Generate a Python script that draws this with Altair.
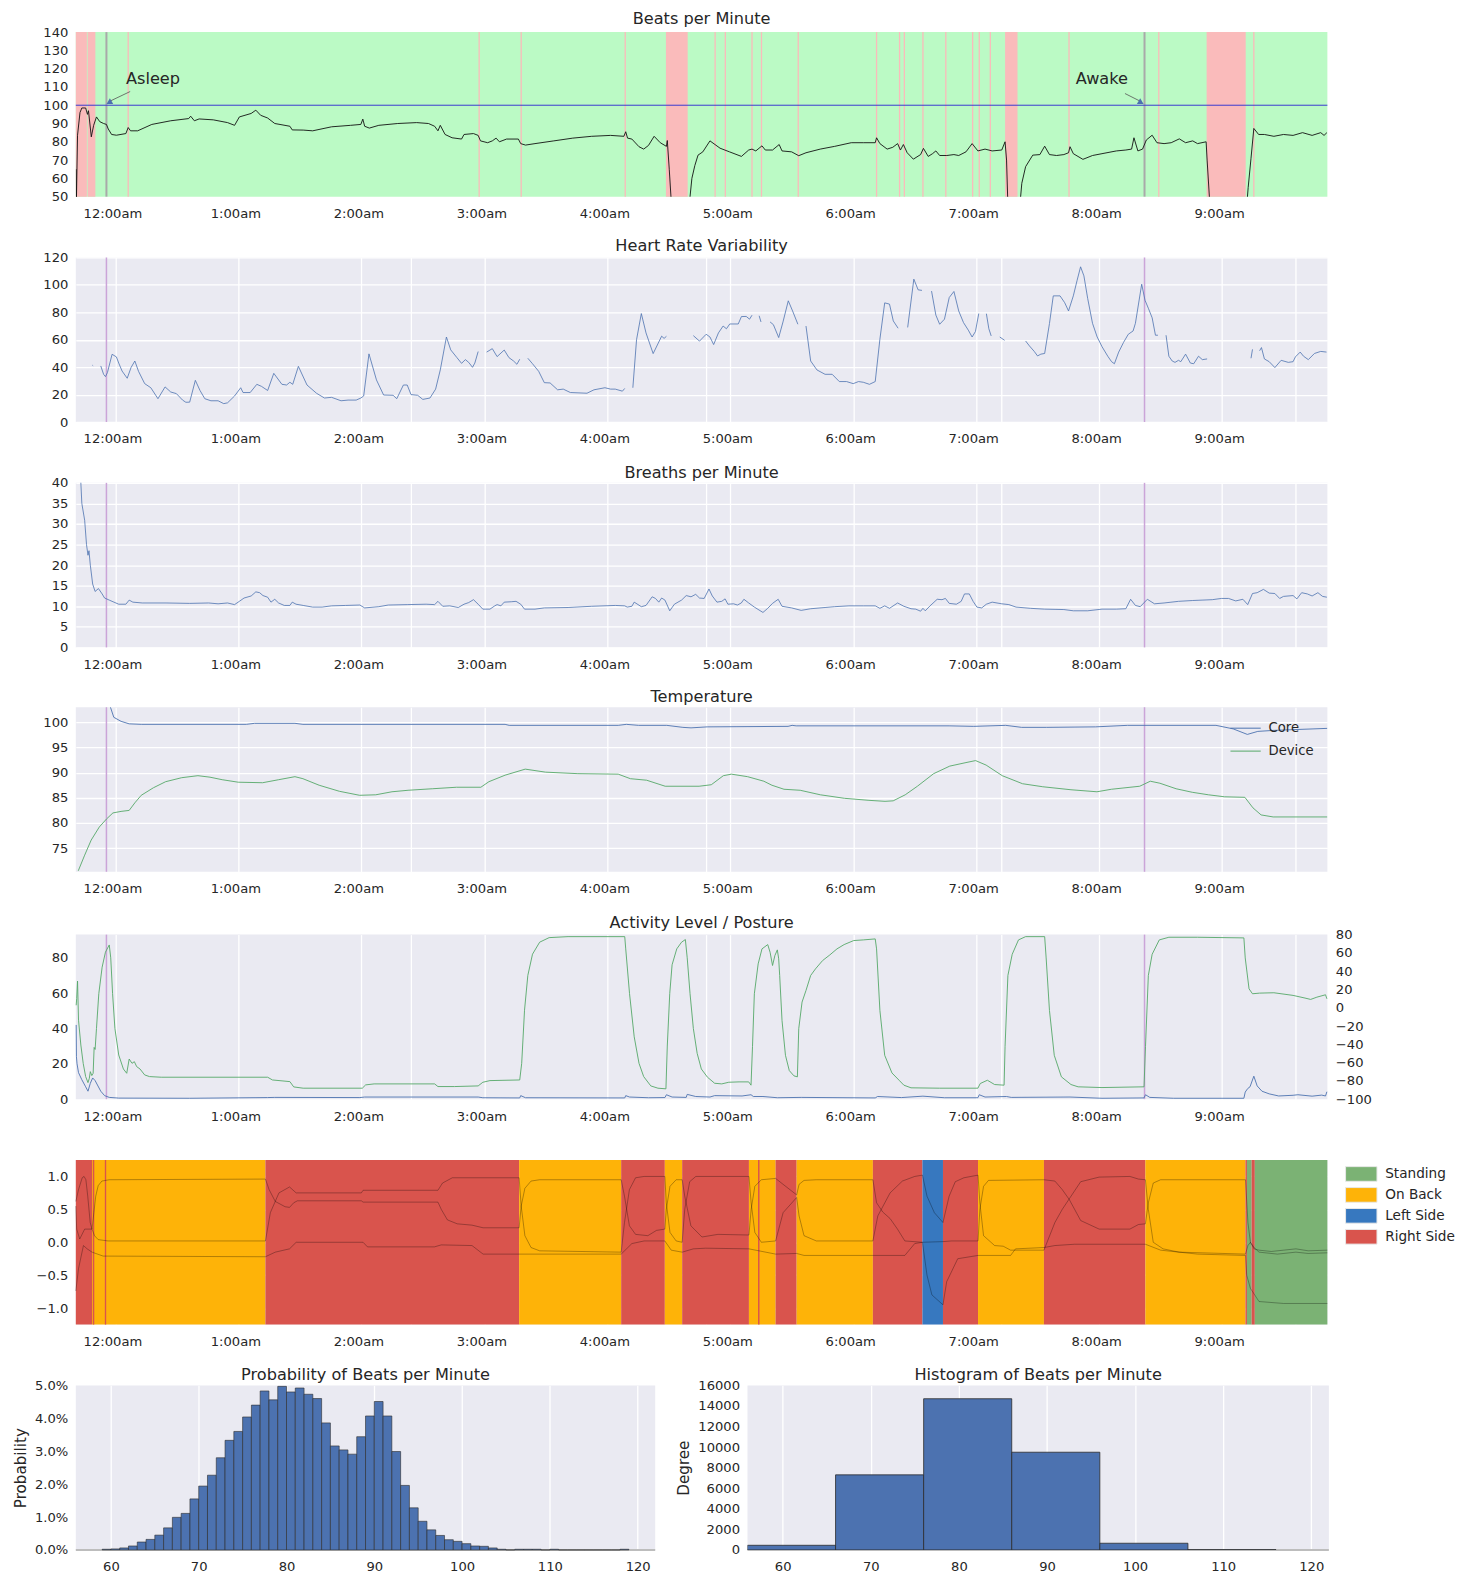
import altair as alt
import pandas as pd

# ---------------- time axis (hours after midnight) ----------------
X_DOMAIN = [-0.322, 9.856]
X_TICKS = [0, 1, 2, 3, 4, 5, 6, 7, 8, 9, 2.4, 4.8, 7.2, 9.6]
X_LABEL_EXPR = ("datum.value == 0 ? '12:00am' : "
                "(abs(datum.value - round(datum.value)) < 0.001 ? datum.value + ':00am' : '')")

sleep_markers = [-0.073, 8.369]

# ---------------- panel 1: beats per minute ----------------
pink_bands = [(-0.322, -0.232), (-0.226, -0.163), (4.477, 4.654), (7.235, 7.336), (8.874, 9.192)]
pink_lines = [0.104, 2.958, 3.300, 4.146, 4.877, 4.960, 5.177, 5.254, 5.553, 6.190, 6.377,
              6.416, 6.567, 6.753, 6.971, 7.025, 7.115, 7.755, 8.485, 9.258]
bpm_threshold = [100]
bpm_trace = [
    (-0.319, 65), (-0.317, 48), (-0.308, 83.6), (-0.288, 96), (-0.273, 98.5), (-0.242, 98.5),
    (-0.227, 95), (-0.219, 97), (-0.196, 82.7), (-0.177, 89), (-0.154, 93.6), (-0.127, 91),
    (-0.096, 90), (-0.073, 89.5), (-0.058, 87), (-0.031, 84), (0.008, 83.6), (0.085, 84.5),
    (0.104, 87.8), (0.123, 86), (0.181, 86), (0.296, 89.5), (0.450, 91.5), (0.596, 92.7),
    (0.612, 94), (0.642, 91.5), (0.681, 92.5), (0.796, 92), (0.912, 90.5), (0.969, 89),
    (1.008, 93.6), (1.104, 95.5), (1.142, 97.3), (1.181, 94.5), (1.238, 93), (1.296, 90),
    (1.419, 88.5), (1.438, 86.5), (1.527, 86.4), (1.604, 86), (1.758, 88.2), (1.912, 89),
    (1.996, 89.5), (2.012, 92.4), (2.027, 88.5), (2.065, 87.5), (2.142, 89), (2.296, 90),
    (2.450, 90.5), (2.546, 90), (2.596, 88.5), (2.623, 86), (2.642, 89), (2.681, 84),
    (2.738, 82.2), (2.815, 81.5), (2.835, 84), (2.912, 84.5), (2.950, 83.5), (2.969, 80.5),
    (3.027, 79.5), (3.065, 80.5), (3.096, 82), (3.123, 80), (3.181, 81.5), (3.277, 81.5),
    (3.296, 79), (3.335, 78.2), (3.412, 79), (3.565, 80.5), (3.719, 82), (3.873, 83),
    (4.027, 83.5), (4.135, 83), (4.150, 85.5), (4.165, 82), (4.200, 81.5), (4.258, 77.3),
    (4.296, 76), (4.335, 78), (4.381, 83), (4.431, 79.5), (4.481, 77.5), (4.488, 80.7),
    (4.504, 65), (4.527, 40), (4.560, 20), (4.650, 40), (4.673, 50), (4.688, 60),
    (4.712, 67), (4.738, 72.7), (4.777, 74.5), (4.835, 80.5), (4.917, 76.5), (4.994, 74.5),
    (5.091, 72), (5.150, 75.5), (5.177, 76), (5.208, 75), (5.258, 77.8), (5.285, 75.5),
    (5.344, 75.5), (5.398, 78.5), (5.421, 75), (5.499, 74.5), (5.557, 72.4), (5.616, 74),
    (5.732, 76), (5.849, 77.5), (5.984, 79.5), (6.082, 79.5), (6.179, 79.5), (6.190, 82.2),
    (6.217, 79), (6.276, 76), (6.322, 77), (6.361, 79), (6.384, 75.5), (6.408, 78.5),
    (6.439, 74), (6.489, 70.5), (6.548, 73), (6.571, 76.4), (6.610, 72), (6.645, 73.5),
    (6.672, 75), (6.703, 72.5), (6.761, 72.5), (6.819, 73), (6.858, 72.5), (6.917, 74.5),
    (6.967, 79), (7.014, 75), (7.072, 76), (7.130, 75), (7.208, 75.5), (7.235, 80),
    (7.247, 70), (7.258, 45), (7.290, 20), (7.355, 45), (7.371, 57.3), (7.402, 66.4),
    (7.460, 72.7), (7.518, 73), (7.557, 77.6), (7.596, 73), (7.654, 72.5), (7.713, 73),
    (7.751, 74), (7.763, 77.3), (7.790, 73.5), (7.868, 70.4), (7.946, 72.5), (8.023, 73.5),
    (8.140, 75), (8.217, 75.5), (8.264, 76), (8.283, 82.2), (8.315, 75), (8.353, 76),
    (8.384, 81), (8.431, 83.6), (8.470, 79.5), (8.528, 79), (8.586, 79.5), (8.652, 81.6),
    (8.703, 79.5), (8.761, 80.5), (8.800, 79), (8.870, 80), (8.878, 70), (8.901, 45),
    (9.030, 20), (9.200, 45), (9.212, 55), (9.235, 71), (9.258, 87.3), (9.297, 84),
    (9.344, 84), (9.421, 83), (9.499, 84), (9.577, 83.5), (9.654, 85), (9.732, 83.5),
    (9.802, 85), (9.829, 83.5), (9.852, 85),
]
annot_labels = ["Asleep", "Awake"]
annot_text_pos = [(0.086, 114.6), (7.81, 114.6)]
annot_arrow_from = [(0.120, 107.5), (8.21, 106.4)]
annot_arrow_to = [(-0.045, 102.2), (8.334, 102.2)]

# ---------------- panel 2: heart rate variability (segments) ----------------
hrv_segments = [
    [(-0.187, 41.4), (-0.181, 41.0)],
    [(-0.119, 40.9), (-0.096, 34.8), (-0.081, 33.1), (-0.065, 36), (-0.027, 49.4), (0.008, 47.5),
     (0.027, 43), (0.054, 37.2), (0.096, 31.9), (0.127, 39.7), (0.158, 44.5), (0.188, 37),
     (0.238, 28), (0.288, 25), (0.346, 17), (0.404, 25.6), (0.450, 21.9), (0.496, 20.7),
     (0.546, 16), (0.573, 14.4), (0.604, 14.5), (0.650, 30.4), (0.688, 23), (0.727, 17),
     (0.777, 15.5), (0.835, 15.5), (0.881, 13.4), (0.912, 14), (0.969, 19), (1.019, 25),
     (1.038, 21.5), (1.096, 21.5), (1.150, 27.5), (1.188, 26), (1.238, 23), (1.288, 35.5),
     (1.354, 27.5), (1.392, 27), (1.419, 29), (1.442, 27.5), (1.488, 40.6), (1.558, 27),
     (1.635, 21), (1.700, 17.5), (1.758, 18), (1.835, 15.5), (1.892, 16), (1.958, 16),
     (1.996, 17.5), (2.019, 19), (2.062, 49.7), (2.123, 30.7), (2.181, 19.7), (2.258, 19.5),
     (2.288, 17), (2.342, 27), (2.373, 27), (2.404, 20), (2.458, 19.5), (2.500, 16.5),
     (2.558, 17.5), (2.604, 24), (2.642, 38), (2.692, 62), (2.727, 52.6), (2.777, 47),
     (2.815, 42.8), (2.846, 45.5), (2.873, 43.5), (2.904, 39.9), (2.923, 43), (2.950, 51.4)],
    [(3.019, 51), (3.065, 53.5), (3.104, 47.7), (3.162, 52.5), (3.200, 47), (3.238, 44.5),
     (3.265, 42.1), (3.288, 45.8)],
    [(3.354, 46.5), (3.392, 42.5), (3.442, 37), (3.488, 28.7), (3.535, 28.5), (3.596, 23.5),
     (3.642, 24), (3.700, 21.5), (3.835, 21), (3.892, 23.5), (3.981, 25), (4.027, 24),
     (4.065, 24), (4.123, 22.5), (4.142, 24.5)],
    [(4.208, 25), (4.238, 60), (4.277, 79.1), (4.315, 65), (4.373, 49.9), (4.442, 62.6),
     (4.462, 61), (4.481, 62.5)],
    [(4.700, 63), (4.750, 59), (4.804, 64), (4.835, 62), (4.865, 56.5), (4.904, 65),
     (4.942, 70), (4.969, 68), (4.996, 71.5), (5.065, 71.5), (5.091, 76.9), (5.130, 77),
     (5.157, 75), (5.177, 77.9)],
    [(5.235, 77.5), (5.250, 73)],
    [(5.324, 73), (5.351, 71), (5.394, 61.6), (5.429, 73), (5.472, 88.4), (5.507, 81),
     (5.550, 71.3)],
    [(5.616, 70), (5.654, 44.5), (5.705, 38), (5.771, 34.8), (5.829, 34.8), (5.887, 29.5),
     (5.946, 29.5), (6.000, 28), (6.043, 29.5), (6.082, 29), (6.132, 27.5), (6.179, 29.5),
     (6.217, 60.4), (6.256, 86.9), (6.295, 86), (6.326, 73.7), (6.365, 68.4)],
    [(6.443, 69), (6.493, 104.2), (6.528, 96.4), (6.559, 96)],
    [(6.637, 95.5), (6.672, 78), (6.703, 71.3), (6.742, 75), (6.781, 90.8), (6.819, 95.2),
     (6.858, 81), (6.897, 72.5), (6.936, 67), (6.967, 62), (6.994, 66), (7.021, 79.1)],
    [(7.083, 79), (7.103, 68), (7.122, 62.8)],
    [(7.192, 62), (7.231, 59.6)],
    [(7.402, 59.1), (7.433, 55.5), (7.472, 51.5), (7.499, 48.2), (7.526, 49.5), (7.557, 50),
     (7.596, 71.8), (7.627, 92), (7.682, 92), (7.720, 87), (7.751, 81), (7.790, 92),
     (7.821, 103.4), (7.849, 113.2), (7.876, 106.6), (7.907, 90), (7.946, 72), (7.984, 62),
     (8.023, 55), (8.070, 48), (8.101, 44), (8.124, 42.5), (8.159, 51), (8.198, 58),
     (8.237, 64), (8.276, 66.4), (8.295, 72), (8.346, 100.5), (8.373, 88.8), (8.400, 83),
     (8.431, 76), (8.458, 63.3), (8.478, 63.3)],
    [(8.544, 63.3), (8.567, 48), (8.594, 44.5), (8.617, 43.5), (8.645, 45), (8.664, 44),
     (8.703, 49.5), (8.742, 43), (8.769, 42.5), (8.808, 48), (8.839, 45.5), (8.878, 46)],
    [(9.235, 46.5), (9.247, 53)],
    [(9.305, 52), (9.320, 54.3), (9.344, 46), (9.383, 44), (9.429, 39.7), (9.480, 45),
     (9.538, 43.5), (9.577, 44), (9.596, 47.5), (9.635, 51), (9.662, 48), (9.701, 45.5),
     (9.751, 50), (9.802, 51.5), (9.849, 51)],
]

# ---------------- panel 3: breaths per minute ----------------
breath_trace = [
    (-0.284, 43), (-0.281, 40), (-0.273, 35), (-0.250, 30.9), (-0.235, 25), (-0.223, 22.4),
    (-0.215, 23.5), (-0.204, 20), (-0.185, 15.4), (-0.165, 13.6), (-0.138, 14.3), (-0.108, 13),
    (-0.088, 12), (-0.050, 11.5), (-0.012, 11), (0.027, 10.5), (0.085, 10.5), (0.112, 11.5),
    (0.142, 11), (0.219, 10.8), (0.412, 10.8), (0.604, 10.7), (0.758, 10.8), (0.835, 10.6),
    (0.912, 10.8), (0.969, 10.4), (1.008, 11.2), (1.046, 12), (1.104, 12.5), (1.142, 13.5),
    (1.173, 13.3), (1.200, 12.6), (1.238, 12.2), (1.265, 11), (1.296, 11.7), (1.327, 10.8),
    (1.373, 10.2), (1.419, 10.2), (1.438, 11), (1.469, 10.5), (1.527, 10.2), (1.604, 9.8),
    (1.681, 9.8), (1.758, 10.1), (1.873, 10.2), (1.988, 10.3), (2.027, 9.6), (2.142, 9.9),
    (2.219, 10.3), (2.373, 10.4), (2.527, 10.5), (2.596, 10.4), (2.623, 11.2), (2.662, 10),
    (2.719, 10.1), (2.788, 9.7), (2.835, 10.5), (2.873, 10.9), (2.912, 11.6), (2.950, 10.5),
    (2.988, 9.3), (3.046, 9.3), (3.085, 10.1), (3.104, 10.4), (3.135, 10.1), (3.162, 11),
    (3.219, 11.1), (3.258, 11.2), (3.296, 10.5), (3.327, 9.3), (3.412, 9.3), (3.488, 9.6),
    (3.681, 9.7), (3.873, 10), (4.065, 10.2), (4.142, 10.1), (4.162, 9.8), (4.200, 10),
    (4.219, 11), (4.277, 9.9), (4.315, 10.2), (4.365, 12.3), (4.392, 11.9), (4.419, 11),
    (4.442, 12), (4.469, 11.5), (4.508, 8.9), (4.546, 10.5), (4.604, 11.5), (4.642, 12.6),
    (4.681, 12.3), (4.719, 12.9), (4.750, 12), (4.788, 11.9), (4.827, 14.2), (4.854, 12.5),
    (4.892, 11), (4.931, 11.2), (4.958, 11.8), (4.981, 10.5), (5.027, 10.6), (5.058, 10.3),
    (5.090, 10.8), (5.111, 11.7), (5.150, 10.8), (5.196, 9.8), (5.266, 8.5), (5.305, 9.5),
    (5.344, 10.7), (5.390, 11.7), (5.421, 10), (5.499, 9.6), (5.577, 9), (5.654, 9.4),
    (5.771, 9.7), (5.849, 9.9), (5.965, 10.1), (6.082, 10.1), (6.179, 10.1), (6.217, 9.5),
    (6.256, 10.1), (6.295, 9.5), (6.361, 10.8), (6.412, 10), (6.470, 9.4), (6.509, 9.3),
    (6.548, 8.8), (6.567, 9.5), (6.586, 8.9), (6.625, 10.1), (6.683, 11.7), (6.722, 11.6),
    (6.750, 11.9), (6.781, 10.7), (6.839, 10.5), (6.878, 11.2), (6.905, 13), (6.944, 13),
    (6.975, 11.2), (7.006, 9.8), (7.045, 9.6), (7.083, 10.5), (7.130, 11), (7.208, 10.6),
    (7.266, 10.4), (7.324, 9.8), (7.441, 9.5), (7.557, 9.3), (7.713, 9.2), (7.790, 8.9),
    (7.907, 8.9), (8.023, 9.3), (8.140, 9.3), (8.217, 9.4), (8.256, 11.7), (8.295, 10.2),
    (8.334, 9.9), (8.392, 11.7), (8.450, 10.6), (8.528, 10.8), (8.645, 11.2), (8.761, 11.4),
    (8.920, 11.6), (8.994, 11.9), (9.052, 11.9), (9.111, 11.3), (9.169, 11.7), (9.208, 10.4),
    (9.247, 13.1), (9.285, 13.3), (9.336, 14.1), (9.383, 13.2), (9.429, 13.1), (9.468, 11.9),
    (9.499, 12.4), (9.577, 12.6), (9.608, 11.8), (9.647, 13.3), (9.693, 13), (9.732, 12.5),
    (9.779, 13.3), (9.817, 12.4), (9.852, 12.2),
]

# ---------------- panel 4: temperature ----------------
core_trace = [
    (-0.320, 105.5), (-0.060, 104.0), (-0.039, 102.9), (-0.013, 101.0), (0.046, 100.2),
    (0.112, 99.7), (0.210, 99.6), (1.065, 99.6), (1.131, 99.8), (1.460, 99.8), (1.525, 99.6),
    (3.169, 99.6), (3.202, 99.4), (4.089, 99.4), (4.155, 99.6), (4.254, 99.4), (4.484, 99.4),
    (4.615, 99.0), (4.681, 98.9), (4.813, 99.1), (5.470, 99.2), (5.503, 99.4), (5.536, 99.3),
    (6.780, 99.3), (6.980, 99.2), (7.240, 99.4), (7.370, 99.0), (7.570, 99.0), (7.970, 99.1),
    (8.230, 99.4), (8.950, 99.4), (9.090, 98.7), (9.205, 97.6), (9.290, 98.2), (9.420, 98.4),
    (9.856, 98.8),
]
device_trace = [
    (-0.302, 70.5), (-0.250, 73.6), (-0.197, 76.6), (-0.131, 79.2), (-0.072, 80.8),
    (-0.020, 82.0), (0.046, 82.3), (0.112, 82.5), (0.158, 84), (0.210, 85.5), (0.309, 87),
    (0.408, 88.2), (0.539, 89.0), (0.671, 89.4), (0.769, 89.1), (0.868, 88.6), (0.999, 88.1),
    (1.197, 88.0), (1.328, 88.6), (1.460, 89.2), (1.525, 88.8), (1.657, 87.5), (1.821, 86.3),
    (1.986, 85.5), (2.117, 85.6), (2.249, 86.2), (2.380, 86.5), (2.577, 86.8), (2.774, 87.1),
    (2.972, 87.1), (3.037, 88.2), (3.169, 89.5), (3.333, 90.7), (3.498, 90.1), (3.761, 89.8),
    (4.089, 89.7), (4.188, 88.8), (4.320, 88.5), (4.471, 87.3), (4.747, 87.3), (4.846, 87.6),
    (4.944, 89.4), (5.010, 89.7), (5.141, 89.2), (5.273, 88.3), (5.339, 87.5), (5.437, 86.7),
    (5.569, 86.5), (5.733, 85.6), (5.930, 84.9), (6.128, 84.5), (6.259, 84.3), (6.325, 84.4),
    (6.423, 85.6), (6.522, 87.3), (6.654, 89.8), (6.785, 91.3), (6.917, 92.0), (6.995, 92.4),
    (7.081, 91.5), (7.212, 89.4), (7.377, 87.8), (7.541, 87.2), (7.771, 86.6), (7.982, 86.2),
    (8.100, 86.7), (8.330, 87.3), (8.416, 88.3), (8.494, 87.9), (8.626, 86.8), (8.757, 86.1),
    (8.889, 85.6), (9.020, 85.2), (9.185, 85.1), (9.251, 83), (9.317, 81.6), (9.415, 81.2),
    (9.856, 81.2),
]

# ---------------- panel 5: activity level (left) / posture angle (right) ----------------
activity_trace = [
    (-0.319, 42), (-0.317, 24), (-0.312, 20), (-0.300, 15), (-0.273, 11), (-0.242, 7),
    (-0.223, 4.5), (-0.204, 9), (-0.185, 12), (-0.165, 10.5), (-0.146, 8), (-0.119, 4.5),
    (-0.088, 2), (-0.050, 1), (0.027, 0.6), (0.604, 0.5), (1.238, 0.9), (1.296, 1.0),
    (1.988, 0.9), (2.027, 1.2), (2.950, 1.2), (2.988, 0.8), (3.288, 0.7), (3.296, 2),
    (3.335, 0.8), (4.142, 0.7), (4.150, 2), (4.181, 1.2), (4.335, 0.8), (4.469, 0.9),
    (4.481, 2.5), (4.527, 1.2), (4.642, 1.0), (4.650, 2.7), (4.719, 1.5), (4.835, 1.2),
    (4.873, 2), (5.096, 1.8), (5.169, 2.5), (5.188, 1.5), (5.266, 1.5), (5.383, 0.8),
    (5.577, 1), (6.179, 0.7), (6.198, 1.5), (6.392, 0.9), (6.567, 1.7), (6.742, 0.8),
    (7.014, 0.8), (7.025, 2.5), (7.072, 1.2), (7.247, 1.5), (7.285, 1), (7.763, 1.2),
    (8.023, 0.5), (8.365, 0.7), (8.377, 2.5), (8.412, 1), (8.606, 0.5), (9.177, 0.5),
    (9.188, 4), (9.208, 6), (9.227, 7), (9.258, 13), (9.285, 7.5), (9.324, 4.5), (9.383, 3),
    (9.460, 1.8), (9.577, 2.2), (9.616, 2.5), (9.732, 1.7), (9.810, 2.3), (9.841, 1.8),
    (9.852, 4.2),
]
posture_angle_trace = [
    (-0.319, 2.7), (-0.315, 10.0), (-0.308, 29.2), (-0.300, -13.6), (-0.281, -40.8),
    (-0.262, -60.8), (-0.242, -75.3), (-0.223, -81.9), (-0.212, -77.1), (-0.204, -69.9),
    (-0.192, -74.2), (-0.181, -71.7), (-0.173, -43.4), (-0.165, -45.6), (-0.154, -22.7),
    (-0.135, 15.4), (-0.108, 44.4), (-0.081, 60.8), (-0.050, 68.7), (-0.038, 54.6),
    (-0.023, 15.4), (-0.004, -22.7), (0.027, -51.7), (0.065, -67.0), (0.092, -71.7),
    (0.112, -56.1), (0.135, -60.8), (0.154, -59.0), (0.173, -64.4), (0.200, -67.0),
    (0.238, -73.5), (0.277, -75.3), (0.373, -76.0), (1.238, -76.0), (1.277, -79.0),
    (1.419, -80.8), (1.450, -86.6), (1.527, -88.0), (2.008, -88.0), (2.035, -84.4),
    (2.104, -83.3), (2.596, -83.3), (2.623, -86.2), (2.758, -86.2), (2.950, -85.5),
    (2.988, -81.5), (3.046, -79.7), (3.288, -79.0), (3.304, -60.8), (3.327, -2.7),
    (3.354, 35.4), (3.392, 58.6), (3.450, 71.7), (3.527, 76.7), (3.681, 77.8), (4.142, 77.8),
    (4.150, 64.4), (4.181, 15.4), (4.219, -31.8), (4.258, -60.8), (4.296, -75.3),
    (4.354, -85.5), (4.412, -88.0), (4.477, -88.7), (4.488, -41.9), (4.508, 15.4),
    (4.527, 47.0), (4.565, 64.4), (4.604, 71.7), (4.635, 74.6), (4.650, 54.6), (4.673, 15.4),
    (4.700, -22.7), (4.731, -49.9), (4.765, -67.0), (4.815, -76.0), (4.873, -82.6),
    (4.931, -83.3), (4.988, -81.5), (5.072, -81.1), (5.150, -81.1), (5.169, -84.7),
    (5.181, -42.2), (5.196, 15.3), (5.227, 48.0), (5.258, 64.4), (5.305, 69.1), (5.324, 60.7),
    (5.344, 46.2), (5.363, 57.1), (5.383, 63.3), (5.394, 53.5), (5.402, 35.3), (5.421, -13.8),
    (5.449, -52.0), (5.480, -68.7), (5.518, -74.5), (5.546, -75.6), (5.557, -22.9),
    (5.584, 6.2), (5.616, 18.9), (5.654, 35.3), (5.693, 42.5), (5.751, 51.6), (5.810, 57.8),
    (5.868, 64.4), (5.926, 69.1), (6.004, 73.5), (6.082, 74.2), (6.179, 75.3), (6.190, 64.4),
    (6.217, -2.9), (6.256, -52.0), (6.315, -71.3), (6.373, -79.3), (6.412, -84.7),
    (6.470, -87.6), (6.703, -88.0), (7.014, -88.0), (7.033, -82.9), (7.091, -79.3),
    (7.150, -84.0), (7.227, -84.7), (7.235, -42.2), (7.258, 35.3), (7.293, 58.5),
    (7.344, 74.2), (7.402, 77.8), (7.557, 77.8), (7.569, 54.5), (7.596, -2.9), (7.635, -52.0),
    (7.693, -75.6), (7.771, -84.0), (7.829, -86.5), (8.023, -87.3), (8.365, -86.5),
    (8.377, -42.2), (8.400, 35.3), (8.431, 58.5), (8.489, 74.2), (8.567, 77.1), (8.800, 77.1),
    (9.177, 76.4), (9.188, 54.5), (9.219, 20.7), (9.247, 15.3), (9.305, 16.0), (9.421, 16.4),
    (9.577, 13.5), (9.674, 10.6), (9.720, 9.1), (9.771, 11.6), (9.841, 14.2), (9.852, 9.8),
]

# ---------------- panel 6: posture states + accelerometer axes ----------------
posture_states = ["Standing", "On Back", "Left Side", "Right Side"]
posture_colors = ["#7bb274", "#feb308", "#3778bf", "#d9544d"]
posture_bands = [
    (-0.322, -0.190, "Right Side"), (-0.190, 1.220, "On Back"), (-0.184, -0.172, "Right Side"),
    (-0.086, -0.075, "Right Side"), (1.220, 3.283, "Right Side"), (3.283, 4.113, "On Back"),
    (4.113, 4.468, "Right Side"), (4.468, 4.609, "On Back"), (4.609, 5.152, "Right Side"),
    (5.152, 5.369, "On Back"), (5.226, 5.238, "Right Side"), (5.369, 5.540, "Right Side"),
    (5.540, 6.160, "On Back"), (6.160, 6.563, "Right Side"), (6.563, 6.730, "Left Side"),
    (6.730, 7.015, "Right Side"), (7.015, 7.551, "On Back"), (7.551, 8.376, "Right Side"),
    (8.376, 9.190, "On Back"), (9.190, 9.202, "Right Side"), (9.202, 9.240, "Standing"),
    (9.240, 9.266, "Right Side"), (9.266, 9.856, "Standing"),
]
axis_a = [
    (-0.322, 0.62), (-0.300, 0.80), (-0.270, 0.98), (-0.255, 1.00), (-0.240, 0.95),
    (-0.225, 0.70), (-0.205, 0.30), (-0.190, 0.20), (-0.175, 0.45), (-0.160, 0.70),
    (-0.140, 0.86), (-0.110, 0.93), (-0.050, 0.95), (1.220, 0.96), (1.250, 0.80),
    (1.300, 0.62), (1.380, 0.54), (1.416, 0.53), (1.450, 0.60), (1.480, 0.63), (2.000, 0.63),
    (2.014, 0.61), (2.623, 0.61), (2.650, 0.50), (2.700, 0.34), (2.780, 0.28), (2.900, 0.26),
    (2.990, 0.22), (3.283, 0.22), (3.300, 0.55), (3.330, 0.82), (3.380, 0.93), (3.450, 0.95),
    (4.113, 0.95), (4.140, 0.70), (4.180, 0.25), (4.230, 0.12), (4.330, 0.10), (4.400, 0.18),
    (4.468, 0.20), (4.480, 0.50), (4.510, 0.85), (4.560, 0.95), (4.609, 0.95), (4.630, 0.70),
    (4.680, 0.25), (4.770, 0.08), (4.900, 0.12), (5.152, 0.11), (5.170, 0.50), (5.200, 0.85),
    (5.253, 0.95), (5.369, 0.97), (5.430, 0.88), (5.540, 0.72), (5.560, 0.88), (5.600, 0.94),
    (5.700, 0.95), (6.160, 0.95), (6.190, 0.60), (6.240, 0.46), (6.300, 0.36), (6.360, 0.20),
    (6.420, 0.02), (6.563, 0.00), (6.730, 0.01), (6.800, 0.02), (7.015, 0.02), (7.030, 0.50),
    (7.060, 0.85), (7.100, 0.94), (7.551, 0.95), (7.640, 0.93), (7.700, 0.80), (7.757, 0.65),
    (7.850, 0.33), (8.000, 0.20), (8.250, 0.20), (8.320, 0.27), (8.376, 0.28), (8.400, 0.60),
    (8.440, 0.90), (8.500, 0.95), (9.190, 0.95), (9.210, 0.30), (9.230, 0.00), (9.260, -0.10),
    (9.300, -0.12), (9.400, -0.14), (9.500, -0.12), (9.600, -0.10), (9.700, -0.13),
    (9.856, -0.12),
]
axis_b = [
    (-0.322, 0.55), (-0.315, 0.20), (-0.290, 0.05), (-0.250, 0.20), (-0.190, 0.20),
    (-0.170, 0.10), (-0.140, 0.04), (-0.060, 0.02), (1.220, 0.02), (1.260, 0.45),
    (1.330, 0.75), (1.416, 0.84), (1.470, 0.75), (2.000, 0.75), (2.014, 0.79), (2.623, 0.79),
    (2.660, 0.90), (2.740, 0.98), (3.283, 0.98), (3.300, 0.55), (3.330, 0.10), (3.380, -0.08),
    (3.450, -0.13), (4.113, -0.15), (4.140, 0.30), (4.180, 0.80), (4.230, 0.98), (4.300, 1.00),
    (4.468, 1.00), (4.480, 0.60), (4.510, 0.15), (4.560, 0.02), (4.609, 0.00), (4.630, 0.50),
    (4.670, 0.92), (4.720, 1.00), (5.152, 1.00), (5.170, 0.60), (5.200, 0.15), (5.253, 0.00),
    (5.369, 0.02), (5.430, 0.45), (5.540, 0.68), (5.560, 0.40), (5.600, 0.10), (5.700, 0.02),
    (6.160, 0.02), (6.200, 0.40), (6.300, 0.75), (6.400, 0.93), (6.500, 1.00), (6.563, 1.02),
    (6.600, 0.70), (6.660, 0.45), (6.730, 0.30), (6.780, 0.70), (6.830, 0.92), (6.900, 0.98),
    (7.015, 1.02), (7.030, 0.60), (7.060, 0.10), (7.150, -0.05), (7.220, -0.06),
    (7.280, -0.12), (7.551, -0.12), (7.640, 0.30), (7.700, 0.50), (7.757, 0.66), (7.850, 0.92),
    (8.000, 0.99), (8.250, 1.00), (8.320, 0.96), (8.376, 0.95), (8.400, 0.50), (8.440, 0.00),
    (8.520, -0.10), (8.650, -0.15), (9.190, -0.18), (9.210, -0.05), (9.230, 0.00),
    (9.260, -0.08), (9.300, -0.15), (9.450, -0.18), (9.600, -0.15), (9.700, -0.17),
    (9.856, -0.16),
]
axis_c = [
    (-0.322, -0.74), (-0.300, -0.40), (-0.260, -0.05), (-0.230, -0.10), (-0.190, -0.15),
    (-0.100, -0.21), (1.220, -0.22), (1.300, -0.15), (1.416, -0.10), (1.470, 0.00),
    (2.014, 0.00), (2.050, -0.07), (2.594, -0.07), (2.650, -0.04), (2.900, -0.05),
    (2.990, -0.18), (4.113, -0.18), (4.200, -0.02), (4.300, 0.02), (4.468, 0.02),
    (4.520, -0.12), (4.609, -0.15), (4.700, -0.10), (4.800, -0.09), (5.152, -0.10),
    (5.369, -0.18), (5.540, -0.17), (5.600, -0.20), (6.420, -0.20), (6.500, -0.02),
    (6.563, 0.00), (6.600, -0.50), (6.640, -0.80), (6.730, -0.95), (6.760, -0.60),
    (6.850, -0.25), (7.015, -0.20), (7.280, -0.20), (7.320, -0.10), (7.551, -0.08),
    (7.640, -0.05), (7.800, -0.03), (8.376, -0.03), (8.500, -0.12), (8.800, -0.18),
    (9.190, -0.20), (9.200, -0.50), (9.230, -0.70), (9.300, -0.90), (9.500, -0.93),
    (9.856, -0.93),
]

# ---------------- histograms ----------------
hist_x_domain = [56, 122]
prob_bin_start = list(range(59, 119))
prob_percent = [0.02, 0.03, 0.06, 0.12, 0.24, 0.32, 0.45, 0.67, 0.99, 1.11, 1.55, 1.94, 2.27,
                2.80, 3.33, 3.60, 4.04, 4.40, 4.83, 4.56, 4.97, 4.80, 4.92, 4.73, 4.60, 3.86,
                3.16, 3.04, 2.91, 3.44, 4.07, 4.51, 4.07, 2.99, 1.96, 1.28, 0.87, 0.61, 0.44,
                0.31, 0.26, 0.19, 0.12, 0.11, 0.06, 0.02, 0.0, 0.02, 0.02, 0.02, 0.0, 0.02,
                0.0, 0.0, 0.0, 0.0, 0.0, 0.0, 0.0, 0.02]
count_bin_edges = [56, 66, 76, 86, 96, 106, 116]
count_values = [450, 7300, 14700, 9500, 650, 20]

# ---------------- styling ----------------
W, H = 1255, 165
HIST_W_LEFT, HIST_W_RIGHT = 581, 583
FONT = "DejaVu Sans"
SEA_BLUE = "#4c72b0"
SEA_GREEN = "#55a868"
MARK_PURPLE = "#cba4d8"
PINK = "#fabbbb"
LIGHT_GREEN = "#bbfac5"
TXT = "#262626"


def ttl(text, off):
    return alt.TitleParams(text=text, offset=off)


def xq(field="h", grid=True):
    return alt.X(f"{field}:Q",
                 scale=alt.Scale(domain=X_DOMAIN, nice=False, zero=False),
                 axis=alt.Axis(values=X_TICKS, labelExpr=X_LABEL_EXPR, title=None, grid=grid,
                               labelOverlap=False, labelOffset=-3, labelFlush=False),
                 title=None)


def trace_df(pairs, **extra):
    df = pd.DataFrame(pairs, columns=["h", "v"])
    for k, val in extra.items():
        df[k] = val
    return df


def marker_rules(color, width):
    return alt.Chart(pd.DataFrame({"h": sleep_markers})).mark_rule(
        color=color, strokeWidth=width).encode(x=xq())


# ---- Panel 1 ----
p1_y = alt.Y("v:Q", scale=alt.Scale(domain=[50, 140], nice=False, zero=False),
             axis=alt.Axis(values=list(range(50, 141, 10)), grid=False, title=None))
bands_df = pd.DataFrame(pink_bands, columns=["a", "b"])
p1 = alt.layer(
    alt.Chart(bands_df).mark_rect(color=PINK).encode(
        x=xq("a", grid=False), x2="b:Q", y=alt.value(0), y2=alt.value(H)),
    alt.Chart(pd.DataFrame({"h": pink_lines})).mark_rule(color=PINK, strokeWidth=1.3).encode(
        x=xq(grid=False)),
    alt.Chart(pd.DataFrame({"h": sleep_markers})).mark_rule(color="#a9a9a9", strokeWidth=2).encode(
        x=xq(grid=False)),
    alt.Chart(pd.DataFrame({"v": bpm_threshold})).mark_rule(color="#3a3ad0", strokeWidth=1).encode(
        y=p1_y),
    alt.Chart(trace_df(bpm_trace)).mark_line(color="#111111", strokeWidth=0.9, clip=True).encode(
        x=xq(grid=False), y=p1_y),
    alt.Chart(pd.DataFrame({
        "h": [p[0] for p in annot_arrow_from], "v": [p[1] for p in annot_arrow_from],
        "h2": [p[0] for p in annot_arrow_to], "v2": [p[1] for p in annot_arrow_to]})
    ).mark_rule(color="#555555", strokeWidth=0.8).encode(
        x=xq(grid=False), y=p1_y, x2="h2:Q", y2="v2:Q"),
    alt.Chart(pd.DataFrame({"h": [p[0] for p in annot_arrow_to],
                            "v": [p[1] for p in annot_arrow_to]})).mark_point(
        shape="triangle-up", filled=True, size=45, color=SEA_BLUE, opacity=1).encode(
        x=xq(grid=False), y=p1_y),
    alt.Chart(pd.DataFrame({"h": [p[0] for p in annot_text_pos],
                            "v": [p[1] for p in annot_text_pos],
                            "t": annot_labels})).mark_text(
        align="left", baseline="middle", font=FONT, fontSize=16.2, color=TXT).encode(
        x=xq(grid=False), y=p1_y, text="t:N"),
).properties(width=W, height=H, title=ttl("Beats per Minute", -2.3),
             view=alt.ViewBackground(fill=LIGHT_GREEN, stroke=None))

# ---- Panel 2 ----
hrv_rows = []
for i, seg in enumerate(hrv_segments):
    for h, v in seg:
        hrv_rows.append({"h": h, "v": v, "seg": i})
p2 = alt.layer(
    marker_rules(MARK_PURPLE, 1.5),
    alt.Chart(pd.DataFrame(hrv_rows)).mark_line(color=SEA_BLUE, strokeWidth=0.8).encode(
        x=xq(), detail="seg:N",
        y=alt.Y("v:Q", scale=alt.Scale(domain=[0, 120], nice=False),
                axis=alt.Axis(values=list(range(0, 121, 20)), title=None))),
).properties(width=W, height=H, title=ttl("Heart Rate Variability", -4.2))

# ---- Panel 3 ----
p3 = alt.layer(
    marker_rules(MARK_PURPLE, 1.5),
    alt.Chart(trace_df(breath_trace)).mark_line(color=SEA_BLUE, strokeWidth=0.8, clip=True).encode(
        x=xq(),
        y=alt.Y("v:Q", scale=alt.Scale(domain=[0, 40], nice=False),
                axis=alt.Axis(values=list(range(0, 41, 5)), title=None))),
).properties(width=W, height=H, title=ttl("Breaths per Minute", -4.9))

# ---- Panel 4 ----
temp_df = pd.concat([trace_df(core_trace, s="Core"), trace_df(device_trace, s="Device")])
p4 = alt.layer(
    marker_rules(MARK_PURPLE, 1.5),
    alt.Chart(temp_df).mark_line(strokeWidth=0.9, clip=True).encode(
        x=xq(),
        y=alt.Y("v:Q", scale=alt.Scale(domain=[70.3, 103.0], nice=False, zero=False),
                axis=alt.Axis(values=[75, 80, 85, 90, 95, 100], title=None)),
        color=alt.Color("s:N", scale=alt.Scale(domain=["Core", "Device"],
                                              range=[SEA_BLUE, SEA_GREEN]),
                        legend=alt.Legend(title=None, orient="none", legendX=1157, legendY=5,
                                          symbolType="stroke", symbolSize=920,
                                          symbolStrokeWidth=1, labelOffset=7,
                                          labelFontSize=13.2, padding=0, rowPadding=-1))),
).properties(width=W, height=H, title=ttl("Temperature", 1))

# ---- Panel 5 ----
p5 = alt.layer(
    marker_rules(MARK_PURPLE, 1.5),
    alt.Chart(trace_df(posture_angle_trace)).mark_line(color=SEA_GREEN, strokeWidth=0.9).encode(
        x=xq(),
        y=alt.Y("v:Q", scale=alt.Scale(domain=[-100, 80], nice=False, zero=False),
                axis=alt.Axis(values=list(range(-100, 81, 20)), title=None, orient="right",
                              grid=False))),
    alt.Chart(trace_df(activity_trace)).mark_line(color=SEA_BLUE, strokeWidth=0.9).encode(
        x=xq(),
        y=alt.Y("v:Q", scale=alt.Scale(domain=[0, 93.1], nice=False, zero=False),
                axis=alt.Axis(values=[0, 20, 40, 60, 80], title=None, orient="left"))),
).resolve_scale(y="independent").properties(width=W, height=H,
                                            title=ttl("Activity Level / Posture", -3.1))

# ---- Panel 6 ----
pb_df = pd.DataFrame(posture_bands, columns=["a", "b", "state"])
axes_df = pd.concat([trace_df(axis_a, k="a"), trace_df(axis_b, k="b"), trace_df(axis_c, k="c")])
p6 = alt.layer(
    alt.Chart(pb_df).mark_rect().encode(
        x=xq("a"), x2="b:Q", y=alt.value(0), y2=alt.value(H),
        color=alt.Color("state:N", scale=alt.Scale(domain=posture_states, range=posture_colors),
                        legend=alt.Legend(title=None, orient="right", offset=18,
                                          symbolType="M-1.5,-0.7H1.5V0.7H-1.5Z",
                                          symbolSize=441, symbolStrokeColor="#e8e8e8",
                                          symbolStrokeWidth=1, symbolOpacity=1,
                                          labelOffset=13, labelFontSize=13.65, padding=3,
                                          rowPadding=0))),
    alt.Chart(axes_df).mark_line(color="#000000", opacity=0.3, strokeWidth=1).encode(
        x=xq(), detail="k:N",
        y=alt.Y("v:Q", scale=alt.Scale(domain=[-1.25, 1.25], nice=False, zero=False),
                axis=alt.Axis(values=[-1.0, -0.5, 0.0, 0.5, 1.0], format=".1f", title=None))),
).properties(width=W, height=H, title=ttl(" ", 1.9))

# ---- Histograms ----
hx_axis = alt.Axis(values=list(range(60, 121, 10)), title=None, labelOverlap=False)
hx_scale = alt.Scale(domain=hist_x_domain, nice=False, zero=False)
base_df = pd.DataFrame({"a": [hist_x_domain[0]], "b": [hist_x_domain[1]]})

prob_scale = alt.Scale(domain=[0, 5], nice=False)
prob_axis = alt.Axis(values=[0, 1, 2, 3, 4, 5], title="Probability", labelOverlap=False,
                     labelExpr="format(datum.value, '.1f') + '%'")
prob_df = pd.DataFrame({"a": prob_bin_start, "b": [s + 1 for s in prob_bin_start],
                        "p": prob_percent})
hist_left = alt.layer(
    alt.Chart(base_df).mark_rule(color="#bdbdbd", strokeWidth=2).encode(
        x=alt.X("a:Q", scale=hx_scale, axis=hx_axis), x2="b:Q",
        y=alt.YDatum(0, type="quantitative", scale=prob_scale, axis=prob_axis)),
    alt.Chart(prob_df).mark_bar(color=SEA_BLUE, stroke="#2b2b2b", strokeWidth=0.6).encode(
        x=alt.X("a:Q", scale=hx_scale, axis=hx_axis), x2="b:Q",
        y=alt.Y("p:Q", scale=prob_scale, axis=prob_axis),
        y2=alt.datum(0)),
).properties(width=HIST_W_LEFT, height=H, title=ttl("Probability of Beats per Minute", -4.9))

count_scale = alt.Scale(domain=[0, 16000], nice=False)
count_axis = alt.Axis(values=list(range(0, 16001, 2000)), title="Degree", format="d",
                      labelOverlap=False)
count_df = pd.DataFrame({"a": count_bin_edges[:-1], "b": count_bin_edges[1:],
                         "c": count_values})
hist_right = alt.layer(
    alt.Chart(base_df).mark_rule(color="#bdbdbd", strokeWidth=2).encode(
        x=alt.X("a:Q", scale=hx_scale, axis=hx_axis), x2="b:Q",
        y=alt.YDatum(0, type="quantitative", scale=count_scale, axis=count_axis)),
    alt.Chart(count_df).mark_bar(color=SEA_BLUE, stroke="#2b2b2b", strokeWidth=0.8,
                                 clip=True).encode(
        x=alt.X("a:Q", scale=hx_scale, axis=hx_axis), x2="b:Q",
        y=alt.Y("c:Q", scale=count_scale, axis=count_axis),
        y2=alt.datum(0)),
).properties(width=HIST_W_RIGHT, height=H, title=ttl("Histogram of Beats per Minute", -4.9))

bottom = alt.hconcat(hist_left, hist_right, spacing=20.5)

chart = alt.vconcat(p1, p2, p3, p4, p5, p6, bottom, spacing=18).resolve_scale(
    color="independent"
).properties(
    padding={"left": 5, "top": 1, "right": 5, "bottom": 5}
).configure(
    font=FONT
).configure_view(
    fill="#eaeaf2", stroke=None
).configure_axis(
    labelFont=FONT, labelFontSize=13.15, labelColor=TXT, domain=False, ticks=False, tickSize=0,
    gridColor="white", gridWidth=1.3, titleFont=FONT, titleFontSize=15.2,
    titleFontWeight="normal", titleColor=TXT, titlePadding=6, labelOverlap=False
).configure_axisX(
    labelPadding=11
).configure_axisY(
    labelPadding=8
).configure_title(
    font=FONT, fontSize=16.2, fontWeight="normal", color=TXT, anchor="middle"
).configure_legend(
    labelFont=FONT, labelColor=TXT
)

chart.save("out.html", embed_options={"renderer": "svg", "actions": False})
